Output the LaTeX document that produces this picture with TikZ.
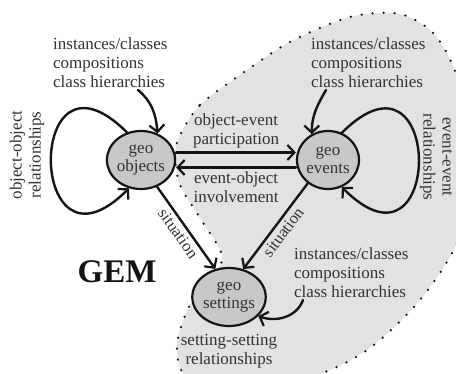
\documentclass[tikz,border=0pt]{standalone}
\usepackage{fontspec}
\setmainfont{Liberation Serif}
\usetikzlibrary{arrows.meta,shapes.geometric,positioning}

\begin{document}
\begin{tikzpicture}[x=1pt,y=1pt,
  geo/.style={ellipse,draw=lineColor,fill=nodeColor,line width=2.2pt,
    minimum width=62pt,minimum height=58pt,inner sep=0pt,align=center,
    text=textColor,font=\fontsize{17}{18}\selectfont},
  lbl/.style={text=textColor,align=center,inner sep=0pt,
    font=\fontsize{17}{19}\selectfont},
  lblleft/.style={lbl,align=left,anchor=west},
  sit/.style={text=textColor,inner sep=3pt,font=\fontsize{16.5}{16.5}\selectfont},
  rel/.style={draw=lineColor,line width=2.4pt,line cap=round,
    -{Straight Barb[length=7pt,width=15pt,line width=2.2pt]}},
  ]
\definecolor{lineColor}{RGB}{20,20,20}
\definecolor{textColor}{RGB}{50,50,50}
\definecolor{nodeColor}{RGB}{200,200,200}
\definecolor{areaColor}{RGB}{226,226,226}
\useasboundingbox (0,0) rectangle (456,374);

% event area
\begin{scope}
\clip (0,0) rectangle (456,374);
\path[fill=areaColor] plot[smooth cycle] coordinates {
  (180,239) (200,269) (240,299) (290,332) (350,357) (400,360)
  (435,339) (458,294) (472,214) (458,134) (420,74) (370,26)
  (320,0) (250,-18) (188,-4) (177,29) (190,69) (212,96)
  (222,119) (200,156) (180,189) (175,219)};
\draw[lineColor,line width=2.5pt,line cap=round,dash pattern=on 0pt off 11pt]
  plot[smooth cycle] coordinates {
  (180,239) (200,269) (240,299) (290,332) (350,357) (400,360)
  (435,339) (458,294) (472,214) (458,134) (420,74) (370,26)
  (320,0) (250,-18) (188,-4) (177,29) (190,69) (212,96)
  (222,119) (200,156) (180,189) (175,219)};
\end{scope}

% entities
\node[geo] (obj) at (141,214) {geo\\objects};
\node[geo] (evt) at (328,214) {geo\\events};
\node[geo] (set) at (229,77) {geo\\settings};

\node[text=lineColor,inner sep=0pt,font=\fontsize{33}{33}\selectfont\bfseries]
  (gem) at (117,102) {GEM};

% texts
\node[lblleft] (insA) at (53,311) {instances/classes\\compositions\\class hierarchies};
\node[lblleft] (insB) at (311,311) {instances/classes\\compositions\\class hierarchies};
\node[lblleft] (insC) at (294,101) {instances/classes\\compositions\\class hierarchies};
\node[lbl,rotate=90] (objrel) at (27,219) {object-object\\relationships};
\node[lbl,rotate=-90] (evtrel) at (436,217) {event-event\\relationships};
\node[lbl,below=7pt of set] (setrel) {setting-setting\\relationships};

\coordinate (insAend) at (138,284);
\coordinate (insBend) at (326,284);
\coordinate (insCend) at (303,74);

% relations
\draw[rel] (insAend) to[out=-40,in=95] (obj.58);
\draw[rel] (insBend) to[out=-120,in=90] (evt.122);
\draw[rel] (insCend) to[out=-110,in=-20] (set.-33);

\draw[rel] (obj.117) .. controls +(135:145) and +(225:145) .. (obj.247);
\draw[rel] (evt.63) .. controls +(45:145) and +(-45:145) .. (evt.297);

\draw[rel] ([yshift=7.5pt]obj.east) -- node[lbl,above=3pt] (part) {object-event\\participation}
  ([yshift=7.5pt]evt.west);
\draw[rel] ([yshift=-7.5pt]evt.west) -- node[lbl,below=3pt] (invol) {event-object\\involvement}
  ([yshift=-7.5pt]obj.east);

\draw[rel] (obj.-59) -- node[sit,sloped,below] (sitA) {situation} (set.116);
\draw[rel] (evt.229) -- node[sit,sloped,below] (sitB) {situation} (set.63);
\end{tikzpicture}
\end{document}
